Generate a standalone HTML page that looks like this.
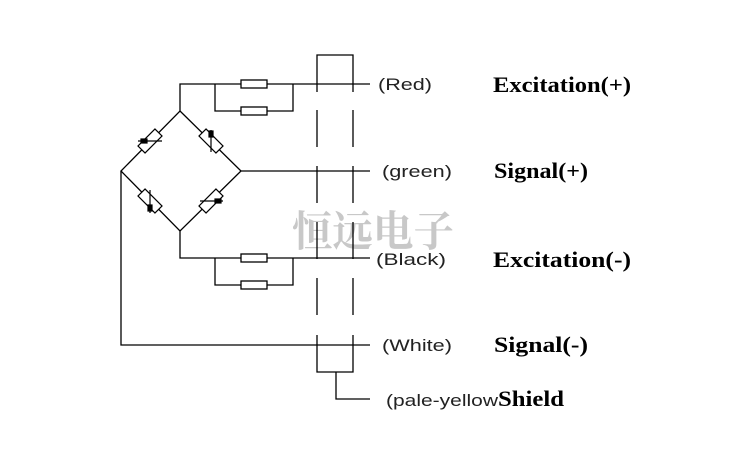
<!DOCTYPE html>
<html><head><meta charset="utf-8"><style>html,body{margin:0;padding:0;background:#fff}</style></head>
<body>
<svg width="736" height="464" viewBox="0 0 736 464" xmlns="http://www.w3.org/2000/svg">
<rect width="736" height="464" fill="#fff"/>
<text x="292" y="246" font-family="'Noto Serif CJK SC',serif" font-weight="bold" font-size="42" fill="#c8c8c8" textLength="162" lengthAdjust="spacingAndGlyphs">恒远电子</text>
<g stroke="#000" stroke-width="1.3" fill="none">
<polyline points="317,92 317,55 353,55 353,92"/>
<path d="M317,110V147M317,166V203M317,222V259M317,278V315M353,110V147M353,166V203M353,222V259M353,278V315"/>
<polyline points="317,335 317,372 353,372 353,335"/>
<polyline points="180,111 180,84 370,84"/>
<polyline points="215,84 215,111 293,111 293,84"/>
<rect x="241" y="80" width="26" height="8" fill="#fff"/>
<rect x="241" y="107" width="26" height="8" fill="#fff"/>
<polyline points="180,231 180,258 370,258"/>
<polyline points="215,258 215,285 293,285 293,258"/>
<rect x="241" y="254" width="26" height="8" fill="#fff"/>
<rect x="241" y="281" width="26" height="8" fill="#fff"/>
<polygon points="180,111 241,171 180,231 121,171"/>
<line x1="241" y1="171" x2="370" y2="171"/>
<polyline points="121,171 121,345 370,345"/>
<polyline points="336,372 336,399 370,399"/>
</g>
<g stroke="#000" stroke-width="1.2">
<g transform="translate(150,141) rotate(-45)"><rect x="-12" y="-5" width="24" height="10" fill="#fff"/></g>
<line x1="138" y1="141" x2="162" y2="141"/><rect x="141" y="139" width="6" height="4" fill="#000"/>
<g transform="translate(211,141) rotate(45)"><rect x="-12" y="-5" width="24" height="10" fill="#fff"/></g>
<line x1="211" y1="130" x2="211" y2="152"/><rect x="209" y="131" width="4" height="6" fill="#000"/>
<g transform="translate(150,201) rotate(45)"><rect x="-12" y="-5" width="24" height="10" fill="#fff"/></g>
<line x1="150" y1="190" x2="150" y2="213"/><rect x="148" y="205" width="4" height="6" fill="#000"/>
<g transform="translate(211,201) rotate(-45)"><rect x="-12" y="-5" width="24" height="10" fill="#fff"/></g>
<line x1="200" y1="201" x2="223" y2="201"/><rect x="215" y="199" width="6" height="4" fill="#000"/>
</g>
<g font-family="'Liberation Sans',sans-serif" font-size="17" fill="#222" font-weight="300">
<text x="378" y="90" textLength="54" lengthAdjust="spacingAndGlyphs">(Red)</text>
<text x="382" y="177" textLength="70" lengthAdjust="spacingAndGlyphs">(green)</text>
<text x="376" y="265" textLength="70" lengthAdjust="spacingAndGlyphs">(Black)</text>
<text x="382" y="351" textLength="70" lengthAdjust="spacingAndGlyphs">(White)</text>
<text x="386" y="406" textLength="112" lengthAdjust="spacingAndGlyphs">(pale-yellow</text>
</g>
<g font-family="'Liberation Serif',serif" font-weight="bold" font-size="22" fill="#000">
<text x="493" y="92" textLength="138" lengthAdjust="spacingAndGlyphs">Excitation(+)</text>
<text x="494" y="178" textLength="94" lengthAdjust="spacingAndGlyphs">Signal(+)</text>
<text x="493" y="267" textLength="138" lengthAdjust="spacingAndGlyphs">Excitation(-)</text>
<text x="494" y="352" textLength="94" lengthAdjust="spacingAndGlyphs">Signal(-)</text>
<text x="498" y="406" textLength="66" lengthAdjust="spacingAndGlyphs">Shield</text>
</g>
</svg>
</body></html>
